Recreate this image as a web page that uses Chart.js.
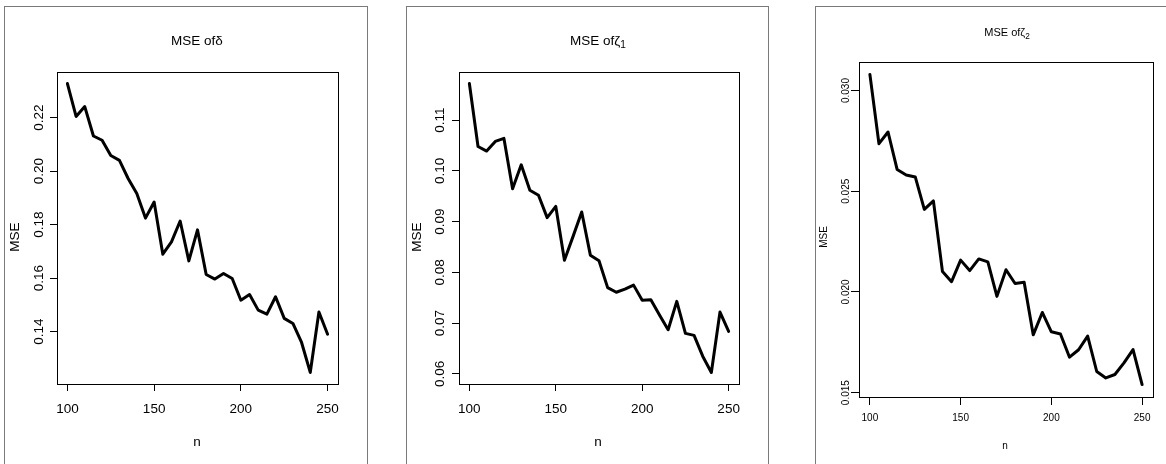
<!DOCTYPE html>
<html>
<head>
<meta charset="utf-8">
<script src="https://cdn.jsdelivr.net/npm/chart.js@4"></script>
<style>
  html, body { margin:0; padding:0; background:#fff; overflow:hidden; }
  body { width:1166px; height:464px; position:relative; }
  .frame { position:absolute; border:1px solid #7a7a7a; box-sizing:border-box; }
  canvas { position:absolute; left:0; top:0; }
</style>
</head>
<body>
<div class="frame" style="left:4px;top:6px;width:364px;height:480px"></div>
<div class="frame" style="left:406px;top:6px;width:363px;height:480px"></div>
<div class="frame" style="left:815px;top:6px;width:400px;height:480px"></div>
<canvas id="c1" width="1166" height="464"></canvas>
<canvas id="c2" width="1166" height="464"></canvas>
<canvas id="c3" width="1166" height="464"></canvas>
<script>
// sample sizes
const n = [100,105,110,115,120,125,130,135,140,145,150,155,160,165,170,175,180,185,190,195,200,205,210,215,220,225,230,235,240,245,250];

// MSE of delta
const mseDelta = [0.2327,0.2204,0.2241,0.2131,0.2115,0.2058,0.2040,0.1972,0.1916,0.1824,0.1884,0.1689,0.1735,0.1813,0.1664,0.1780,0.1613,0.1596,0.1617,0.1598,0.1517,0.1538,0.1480,0.1465,0.1530,0.1449,0.1430,0.1359,0.1247,0.1473,0.1390];
// MSE of zeta1
const mseZeta1 = [0.1172,0.1048,0.1039,0.1058,0.1064,0.0965,0.1012,0.0962,0.0952,0.0908,0.0930,0.0824,0.0871,0.0919,0.0834,0.0823,0.0770,0.0761,0.0767,0.0775,0.0745,0.0746,0.0716,0.0687,0.0743,0.0680,0.0676,0.0635,0.0603,0.0722,0.0684];
// MSE of zeta2
const mseZeta2 = [0.0308,0.02736,0.02794,0.02608,0.02581,0.02571,0.02410,0.02452,0.02101,0.02051,0.02158,0.02106,0.02164,0.02149,0.01978,0.02110,0.02042,0.02048,0.01787,0.01898,0.01802,0.01791,0.01676,0.01713,0.01781,0.01605,0.01573,0.01590,0.01648,0.01714,0.01540];

const xTicks = [100,150,200,250];
const yTicksDelta = [0.14,0.16,0.18,0.20,0.22];
const yLabelsDelta = ["0.14","0.16","0.18","0.20","0.22"];
const yTicksZeta1 = [0.06,0.07,0.08,0.09,0.10,0.11];
const yLabelsZeta1 = ["0.06","0.07","0.08","0.09","0.10","0.11"];
const yTicksZeta2 = [0.015,0.020,0.025,0.030];
const yLabelsZeta2 = ["0.015","0.020","0.025","0.030"];

const W = 1166, H = 464;
const FONT = '"Liberation Sans", Arial, sans-serif';

// R style 4% range expansion
function expand(arr){
  const lo = Math.min(...arr), hi = Math.max(...arr);
  const d = (hi - lo) * 0.04;
  return [lo - d, hi + d];
}

function drawRich(ctx, parts, cx, cy, size){
  let total = 0;
  parts.forEach(p => {
    ctx.font = (p.sub ? size*0.75 : size) + 'px ' + FONT;
    p.w = ctx.measureText(p.t).width;
    total += p.w;
  });
  let x = cx - total/2;
  ctx.textAlign = 'left';
  ctx.textBaseline = 'middle';
  parts.forEach(p => {
    ctx.font = (p.sub ? size*0.75 : size) + 'px ' + FONT;
    ctx.fillText(p.t, x, cy + (p.sub ? size*0.3 : 0));
    x += p.w;
  });
}

function makePanel(id, values, yTicks, yLabels, p){
  const [ymin, ymax] = expand(values);
  const [xmin, xmax] = expand(n);

  const textPlugin = {
    id: 'rtext',
    afterDraw(chart){
      const ctx = chart.ctx;
      const a = chart.chartArea;
      ctx.save();
      // plot box
      ctx.strokeStyle = '#000';
      ctx.lineWidth = 1;
      ctx.strokeRect(a.left + 0.5, a.top + 0.5, a.right - a.left, a.bottom - a.top);
      ctx.fillStyle = '#000';
      // x tick labels
      ctx.font = p.fs + 'px ' + FONT;
      ctx.textAlign = 'center';
      ctx.textBaseline = 'middle';
      xTicks.forEach(v => {
        ctx.fillText(String(v), chart.scales.x.getPixelForValue(v), p.xLabY);
      });
      // y tick labels, rotated
      yTicks.forEach((v, i) => {
        ctx.save();
        ctx.translate(p.yLabX, chart.scales.y.getPixelForValue(v));
        ctx.rotate(-Math.PI/2);
        ctx.fillText(yLabels[i], 0, 0);
        ctx.restore();
      });
      // axis titles
      ctx.fillText('n', p.nX, p.nY);
      ctx.save();
      ctx.translate(p.mseX, p.mseY);
      ctx.rotate(-Math.PI/2);
      ctx.fillText('MSE', 0, 0);
      ctx.restore();
      // main title
      drawRich(ctx, p.title, p.titleX, p.titleY, p.tfs);
      ctx.restore();
    }
  };

  return new Chart(document.getElementById(id), {
    type: 'line',
    data: {
      datasets: [{
        data: n.map((x, i) => ({x: x, y: values[i]})),
        borderColor: '#000',
        borderWidth: 3,
        borderJoinStyle: 'round',
        borderCapStyle: 'round',
        pointRadius: 0,
        tension: 0,
        fill: false
      }]
    },
    options: {
      responsive: false,
      animation: false,
      devicePixelRatio: 1,
      layout: { padding: { left: p.box[0] - 10, top: p.box[1], right: W - p.box[2], bottom: H - p.box[3] - 10 } },
      plugins: { legend: { display: false }, tooltip: { enabled: false } },
      scales: {
        x: {
          type: 'linear', min: xmin, max: xmax,
          afterBuildTicks: s => { s.ticks = xTicks.map(v => ({value: v})); },
          afterFit: s => { s.height = 10; },
          ticks: { display: false },
          grid: { drawOnChartArea: false, tickLength: p.tl, color: '#000', lineWidth: 1 },
          border: { display: false }
        },
        y: {
          type: 'linear', min: ymin, max: ymax,
          afterBuildTicks: s => { s.ticks = yTicks.map(v => ({value: v})); },
          afterFit: s => { s.width = 10; },
          ticks: { display: false },
          grid: { drawOnChartArea: false, tickLength: p.tl, color: '#000', lineWidth: 1 },
          border: { display: false }
        }
      }
    },
    plugins: [textPlugin]
  });
}

makePanel('c1', mseDelta, yTicksDelta, yLabelsDelta, {
  box: [57, 72, 338, 384], tl: 7, fs: 13.5, tfs: 13.5,
  xLabY: 409, yLabX: 39, nX: 197, nY: 442, mseX: 15, mseY: 237,
  titleX: 197, titleY: 41, title: [{t: 'MSE of'}, {t: 'δ'}]
});
makePanel('c2', mseZeta1, yTicksZeta1, yLabelsZeta1, {
  box: [459, 72, 739, 384], tl: 7, fs: 13.5, tfs: 13.5,
  xLabY: 409, yLabX: 440, nX: 598, nY: 442, mseX: 417, mseY: 237,
  titleX: 598, titleY: 41, title: [{t: 'MSE of'}, {t: 'ζ'}, {t: '1', sub: true}]
});
makePanel('c3', mseZeta2, yTicksZeta2, yLabelsZeta2, {
  box: [859, 62, 1153, 397], tl: 8, fs: 10, tfs: 11,
  xLabY: 418, yLabX: 846, nX: 1005, nY: 446, mseX: 824, mseY: 237,
  titleX: 1007, titleY: 33, title: [{t: 'MSE of'}, {t: 'ζ'}, {t: '2', sub: true}]
});
</script>
</body>
</html>
